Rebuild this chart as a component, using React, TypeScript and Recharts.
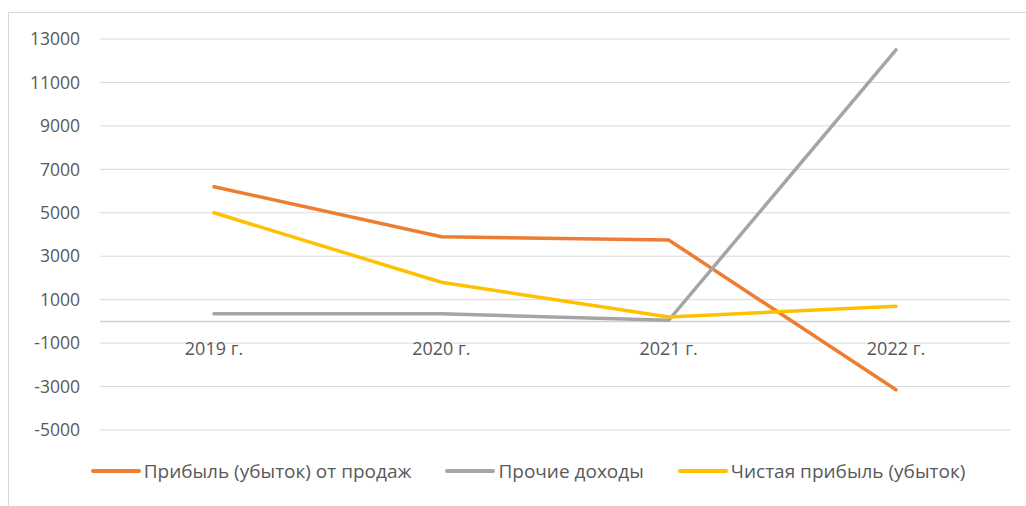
import React from 'react';
import { LineChart, Line, XAxis, YAxis, CartesianGrid, ReferenceLine, LabelList } from 'recharts';

const YEARS = ['2019 г.', '2020 г.', '2021 г.', '2022 г.'];
const SALES_PROFIT = [6200, 3900, 3750, -3150];
const OTHER_INCOME = [350, 350, 50, 12500];
const NET_PROFIT = [5000, 1800, 200, 700];
const AXIS_ZERO = [0, 0, 0, 0];
const Y_TICKS = [-5000, -3000, -1000, 1000, 3000, 5000, 7000, 9000, 11000, 13000];

const SERIES = [
  { key: 'sales', name: 'Прибыль (убыток) от продаж', color: '#ED7D31' },
  { key: 'other', name: 'Прочие доходы', color: '#A5A5A5' },
  { key: 'net', name: 'Чистая прибыль (убыток)', color: '#FFC000' },
];

const data = YEARS.map((year, i) => ({
  year,
  sales: SALES_PROFIT[i],
  other: OTHER_INCOME[i],
  net: NET_PROFIT[i],
  zero: AXIS_ZERO[i],
}));

const FONT = '"Open Sans", "Noto Sans", sans-serif';
const TEXT = '#595959';

export default function App() {
  return (
    <div style={{ position: 'fixed', inset: 0, background: '#fff', overflow: 'hidden', fontFamily: FONT }}>
      <div
        style={{
          position: 'absolute',
          left: 8,
          top: 12,
          width: 1040,
          height: 520,
          borderLeft: '1px solid #d9d9d9',
          borderTop: '1px solid #d9d9d9',
        }}
      >
        <LineChart width={1018} height={440} data={data} margin={{ top: 26, right: 17, left: 0, bottom: 23 }}>
          <CartesianGrid horizontal vertical={false} stroke="#d9d9d9" />
          <XAxis dataKey="year" hide padding={{ left: 114, right: 114 }} />
          <YAxis
            domain={[-5000, 13000]}
            ticks={Y_TICKS}
            width={91}
            axisLine={false}
            tickLine={false}
            tickMargin={14}
            interval={0}
            tick={{ fill: TEXT, fontSize: 17.5, fontFamily: FONT }}
          />
          <ReferenceLine y={0} stroke="#d0d0d0" strokeWidth={1.5} />
          {/* category labels sit under the zero line, as in the original */}
          <Line
            dataKey="zero"
            stroke="none"
            dot={false}
            activeDot={false}
            legendType="none"
            isAnimationActive={false}
          >
            <LabelList dataKey="year" position="bottom" offset={21} fill={TEXT} fontSize={18} fontFamily={FONT} />
          </Line>
          {SERIES.map(s => (
            <Line
              key={s.key}
              type="linear"
              dataKey={s.key}
              name={s.name}
              stroke={s.color}
              strokeWidth={3.5}
              dot={false}
              activeDot={false}
              strokeLinecap="round"
              isAnimationActive={false}
            />
          ))}
        </LineChart>
        <div
          style={{
            position: 'absolute',
            left: 0,
            top: 445,
            width: 1038,
            display: 'flex',
            justifyContent: 'center',
            gap: 34,
            fontSize: 19,
            color: TEXT,
          }}
        >
          {SERIES.map(s => (
            <div key={s.key} style={{ display: 'flex', alignItems: 'center' }}>
              <svg width={50} height={10} style={{ marginRight: 3 }}>
                <line x1={2} y1={5} x2={48} y2={5} stroke={s.color} strokeWidth={4} strokeLinecap="round" />
              </svg>
              <span>{s.name}</span>
            </div>
          ))}
        </div>
      </div>
    </div>
  );
}
